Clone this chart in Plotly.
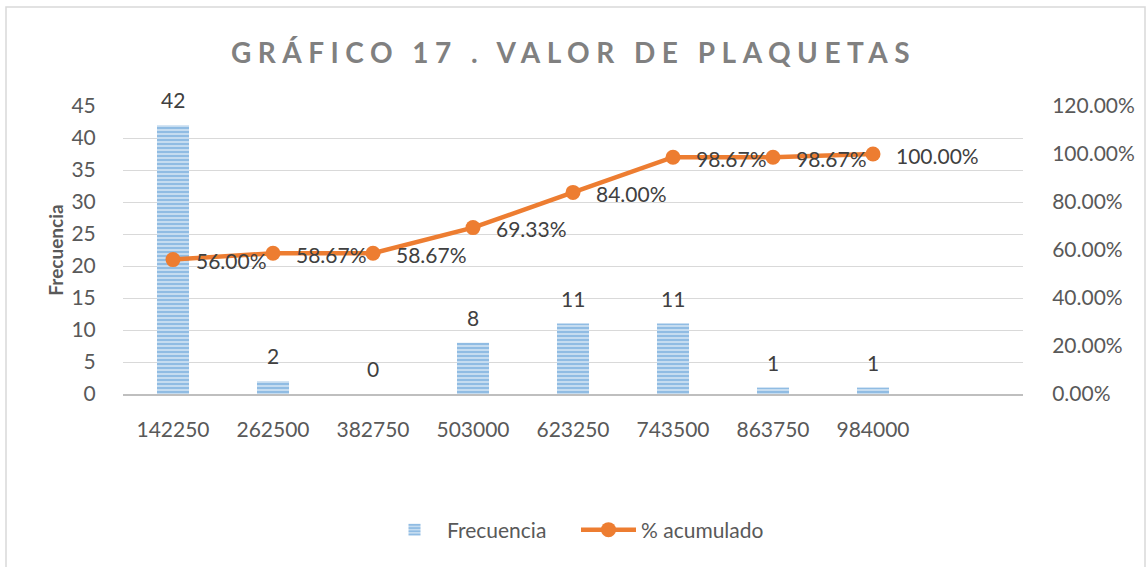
import plotly.graph_objects as go

categories = ["142250", "262500", "382750", "503000", "623250", "743500", "863750", "984000"]
frecuencia = [42, 2, 0, 8, 11, 11, 1, 1]
acumulado = [0.56, 0.5867, 0.5867, 0.6933, 0.84, 0.9867, 0.9867, 1.0]
title_text = "GRÁFICO 17 . VALOR DE PLAQUETAS"

W, H = 1147, 567
L, R, T, B = 123, 124, 106, 173
pw, ph = W - L - R, H - T - B

FONT = "Lato, Open Sans, sans-serif"
TXT = "#595959"
LBL = "#404040"
FS = 21

fig = go.Figure()
fig.add_trace(go.Bar(
    x=categories, y=frecuencia, name="Frecuencia",
    marker=dict(color="#9dc3e6", line=dict(width=0),
                pattern=dict(shape="-", fgcolor="#5b9bd5", bgcolor="#c5dcf0",
                             size=4, solidity=0.5, fillmode="overlay")),
))
fig.add_trace(go.Scatter(
    x=categories, y=acumulado, name="% acumulado", yaxis="y2",
    mode="lines+markers",
    line=dict(color="#ed7d31", width=4.5),
    marker=dict(color="#ed7d31", size=15),
    cliponaxis=False,
))

annotations = []
for i, v in enumerate(frecuencia):
    annotations.append(dict(x=i, y=v, xref="x", yref="y", text=str(v), showarrow=False,
                            xanchor="center", yanchor="bottom", yshift=11,
                            font=dict(size=FS, color=LBL, family=FONT)))
for i, v in enumerate(acumulado):
    annotations.append(dict(x=i, y=v, xref="x", yref="y2", text=f"{v*100:.2f}%", showarrow=False,
                            xanchor="left", yanchor="middle", xshift=21, yshift=-1,
                            font=dict(size=FS, color=LBL, family=FONT)))

fig.update_layout(
    width=W, height=H,
    margin=dict(l=L, r=R, t=T, b=B, autoexpand=False),
    paper_bgcolor="white", plot_bgcolor="white",
    font=dict(family=FONT, size=FS, color=TXT),
    title=dict(text=f'<span style="letter-spacing:6.5px">{title_text}</span>',
               x=0.5, xref="container", xanchor="center",
               y=1 - 53 / H, yref="container", yanchor="middle",
               font=dict(size=28, color="#808080", family=FONT, weight="bold")),
    bargap=0.68,
    showlegend=True,
    legend=dict(orientation="h", x=0.5 + 3 / pw, xanchor="center", y=(394 - 530) / ph, yanchor="middle",
                font=dict(size=FS, color=TXT), itemwidth=55, traceorder="normal",
                entrywidth=124, entrywidthmode="pixels"),
    xaxis=dict(type="category", range=[-0.5, 8.5], showgrid=False,
               showline=True, linecolor="#bfbfbf", linewidth=2,
               ticks="outside", ticklen=16, tickcolor="rgba(0,0,0,0)",
               tickfont=dict(size=FS, color=TXT), zeroline=False),
    yaxis=dict(range=[0, 45], dtick=5, showgrid=True, gridcolor="#d9d9d9", gridwidth=1.3,
               zeroline=False, showline=False,
               ticks="outside", ticklen=22, tickcolor="rgba(0,0,0,0)",
               tickfont=dict(size=FS, color=TXT),
               title=dict(text="<b>Frecuencia</b>", font=dict(size=19, color=TXT), standoff=2)),
    yaxis2=dict(range=[0, 1.2], dtick=0.2, tickformat=".2%", overlaying="y", side="right",
                showgrid=False, zeroline=False, showline=False,
                ticks="outside", ticklen=24, tickcolor="rgba(0,0,0,0)",
                tickfont=dict(size=FS, color=TXT)),
    annotations=annotations,
    shapes=[dict(type="rect", xref="paper", yref="paper",
                 x0=(6 - L) / pw, x1=(1145 - L) / pw,
                 y0=(394 - 575) / ph, y1=(394 - 7) / ph,
                 line=dict(color="#d9d9d9", width=1.5), fillcolor="rgba(0,0,0,0)", layer="below")],
)

fig.write_html("out.html", config={"displayModeBar": False},
               post_script="document.body.style.margin='0';document.body.style.overflow='hidden';")
